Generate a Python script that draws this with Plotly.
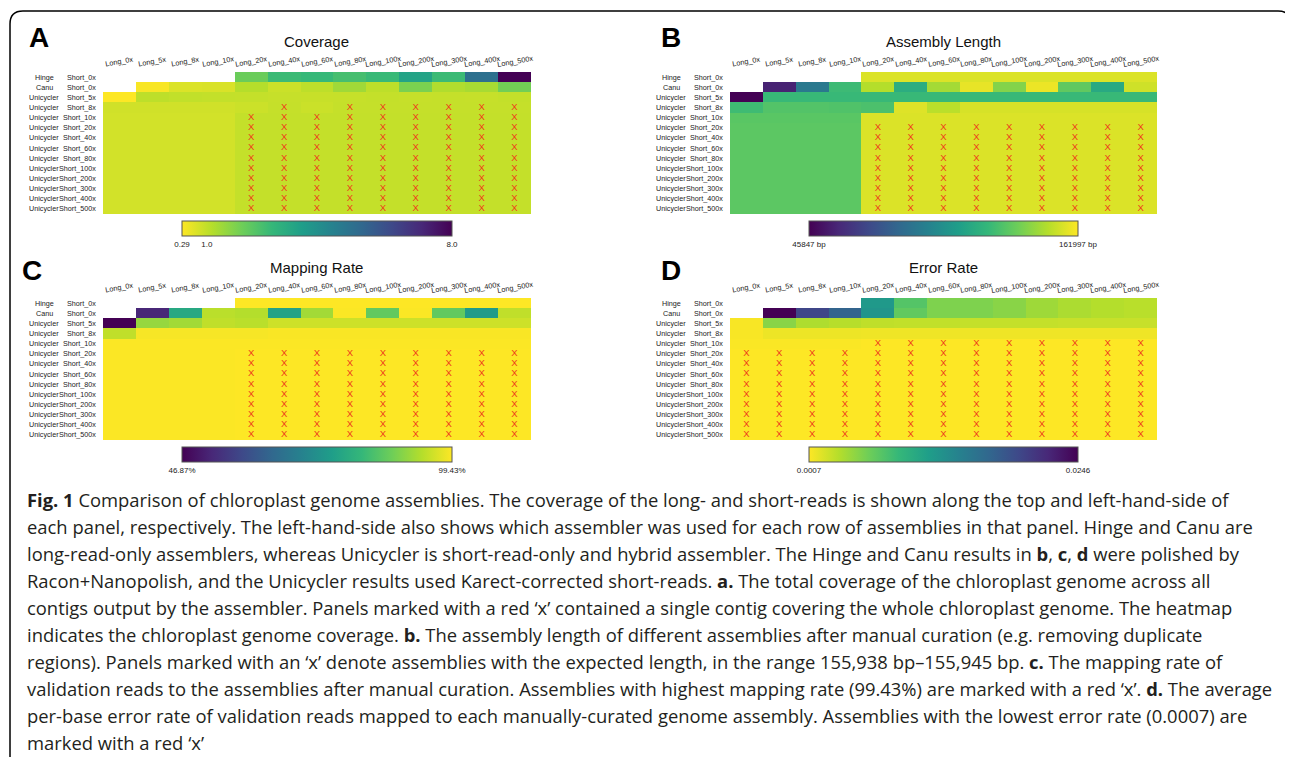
import plotly.graph_objects as go

W, H = 1293, 759
OFF = 8  # the page body margin shifts the figure by 8 px

# ---------------- data ----------------
long_labels = ["Long_0x", "Long_5x", "Long_8x", "Long_10x", "Long_20x", "Long_40x", "Long_60x",
               "Long_80x", "Long_100x", "Long_200x", "Long_300x", "Long_400x", "Long_500x"]
assemblers = ["Hinge", "Canu"] + ["Unicycler"] * 12
short_labels = ["Short_0x", "Short_0x", "Short_5x", "Short_8x", "Short_10x", "Short_20x", "Short_40x",
                "Short_60x", "Short_80x", "Short_100x", "Short_200x", "Short_300x", "Short_400x", "Short_500x"]

N = None
coverage = [
    [N, N, N, N, 2.06, 2.76, 2.84, 2.6, 2.8, 3.53, 2.76, 5.15, 8.0],
    [N, 0.35, 0.7, 0.72, 1.15, 0.9, 1.05, 1.4, 1.05, 1.85, 1.2, 1.3, 1.95],
    [0.29, 1.05, 1.0, 0.98, 0.97, 0.95, 0.93, 0.95, 0.97, 0.95, 0.96, 0.95, 0.98],
    [0.82, 0.82, 0.82, 0.82, 0.88, 0.96, 0.9, 0.96, 0.96, 0.96, 0.96, 0.96, 0.96],
    [0.8, 0.8, 0.8, 0.8, 0.97, 0.97, 0.97, 0.97, 0.97, 0.97, 0.97, 0.97, 0.97],
    [0.8, 0.8, 0.8, 0.8, 0.97, 0.97, 0.97, 0.97, 0.97, 0.97, 0.97, 0.97, 0.97],
    [0.8, 0.8, 0.8, 0.8, 0.97, 0.97, 0.97, 0.97, 0.97, 0.97, 0.97, 0.97, 0.97],
    [0.8, 0.8, 0.8, 0.8, 0.97, 0.97, 0.97, 0.97, 0.97, 0.97, 0.97, 0.97, 0.97],
    [0.8, 0.8, 0.8, 0.8, 0.97, 0.97, 0.97, 0.97, 0.97, 0.97, 0.97, 0.97, 0.97],
    [0.8, 0.8, 0.8, 0.8, 0.97, 0.97, 0.97, 0.97, 0.97, 0.97, 0.97, 0.97, 0.97],
    [0.8, 0.8, 0.8, 0.8, 0.97, 0.97, 0.97, 0.97, 0.97, 0.97, 0.97, 0.97, 0.97],
    [0.8, 0.8, 0.8, 0.8, 0.97, 0.97, 0.97, 0.97, 0.97, 0.97, 0.97, 0.97, 0.97],
    [0.8, 0.8, 0.8, 0.8, 0.97, 0.97, 0.97, 0.97, 0.97, 0.97, 0.97, 0.97, 0.97],
    [0.8, 0.8, 0.8, 0.8, 0.97, 0.97, 0.97, 0.97, 0.97, 0.97, 0.97, 0.97, 0.97],
]

assembly_length = [
    [N, N, N, N, 155941, 155938, 155940, 155942, 155939, 155941, 155940, 155943, 155940],
    [N, 57000, 93000, 125000, 149000, 118000, 146000, 158000, 140000, 159000, 133000, 116000, 153500],
    [45847, 124000, 124000, 124000, 124000, 124000, 124000, 124000, 124000, 124000, 124000, 124000, 124000],
    [125500, 130000, 130000, 129500, 128500, 156500, 150000, 155000, 155000, 155000, 155000, 155000, 155000],
    [131500, 131500, 131500, 131500, 155936, 155936, 155936, 155936, 155936, 155936, 155936, 155936, 155936],
    [132000, 132000, 132000, 132000, 155940, 155940, 155940, 155940, 155940, 155940, 155940, 155940, 155940],
    [132000, 132000, 132000, 132000, 155940, 155940, 155940, 155940, 155940, 155940, 155940, 155940, 155940],
    [132000, 132000, 132000, 132000, 155940, 155940, 155940, 155940, 155940, 155940, 155940, 155940, 155940],
    [132000, 132000, 132000, 132000, 155940, 155940, 155940, 155940, 155940, 155940, 155940, 155940, 155940],
    [132000, 132000, 132000, 132000, 155940, 155940, 155940, 155940, 155940, 155940, 155940, 155940, 155940],
    [132000, 132000, 132000, 132000, 155940, 155940, 155940, 155940, 155940, 155940, 155940, 155940, 155940],
    [132000, 132000, 132000, 132000, 155940, 155940, 155940, 155940, 155940, 155940, 155940, 155940, 155940],
    [132000, 132000, 132000, 132000, 155940, 155940, 155940, 155940, 155940, 155940, 155940, 155940, 155940],
    [132000, 132000, 132000, 132000, 155940, 155940, 155940, 155940, 155940, 155940, 155940, 155940, 155940],
]

mapping_rate = [
    [N, N, N, N, 99.4, 99.4, 99.4, 99.4, 99.4, 99.4, 99.4, 99.4, 99.4],
    [N, 52.5, 78.5, 94.0, 93.5, 77.0, 92.0, 99.3, 86.5, 99.3, 86.5, 75.5, 94.5],
    [46.87, 91.0, 92.0, 94.5, 94.0, 95.5, 95.5, 95.5, 95.5, 95.5, 95.5, 95.5, 95.5],
    [94.5, 98.9, 98.9, 98.9, 98.9, 99.1, 99.1, 99.1, 99.1, 99.1, 99.1, 99.1, 99.1],
    [99.3, 99.3, 99.3, 99.3, 99.3, 99.3, 99.3, 99.3, 99.3, 99.3, 99.3, 99.3, 99.3],
    [99.3, 99.3, 99.3, 99.3, 99.43, 99.43, 99.43, 99.43, 99.43, 99.43, 99.43, 99.43, 99.43],
    [99.3, 99.3, 99.3, 99.3, 99.43, 99.43, 99.43, 99.43, 99.43, 99.43, 99.43, 99.43, 99.43],
    [99.3, 99.3, 99.3, 99.3, 99.43, 99.43, 99.43, 99.43, 99.43, 99.43, 99.43, 99.43, 99.43],
    [99.3, 99.3, 99.3, 99.3, 99.43, 99.43, 99.43, 99.43, 99.43, 99.43, 99.43, 99.43, 99.43],
    [99.3, 99.3, 99.3, 99.3, 99.43, 99.43, 99.43, 99.43, 99.43, 99.43, 99.43, 99.43, 99.43],
    [99.3, 99.3, 99.3, 99.3, 99.43, 99.43, 99.43, 99.43, 99.43, 99.43, 99.43, 99.43, 99.43],
    [99.3, 99.3, 99.3, 99.3, 99.43, 99.43, 99.43, 99.43, 99.43, 99.43, 99.43, 99.43, 99.43],
    [99.3, 99.3, 99.3, 99.3, 99.43, 99.43, 99.43, 99.43, 99.43, 99.43, 99.43, 99.43, 99.43],
    [99.3, 99.3, 99.3, 99.3, 99.43, 99.43, 99.43, 99.43, 99.43, 99.43, 99.43, 99.43, 99.43],
]

error_rate = [
    [N, N, N, N, 0.0118, 0.0072, 0.0054, 0.0054, 0.0050, 0.0042, 0.0037, 0.0034, 0.0032],
    [N, 0.0246, 0.0195, 0.0170, 0.0122, 0.0066, 0.0054, 0.0054, 0.0050, 0.0042, 0.0037, 0.0034, 0.0032],
    [0.0009, 0.0050, 0.0036, 0.0033, 0.0030, 0.0029, 0.0029, 0.0028, 0.0028, 0.0028, 0.0027, 0.0027, 0.0027],
    [0.0009, 0.0013, 0.0013, 0.0013, 0.0012, 0.0012, 0.0012, 0.0012, 0.0012, 0.0012, 0.0012, 0.0012, 0.0012],
    [0.0008, 0.0008, 0.0008, 0.0008, 0.0007, 0.0007, 0.0007, 0.0007, 0.0007, 0.0007, 0.0007, 0.0007, 0.0007],
    [0.0007, 0.0007, 0.0007, 0.0007, 0.0007, 0.0007, 0.0007, 0.0007, 0.0007, 0.0007, 0.0007, 0.0007, 0.0007],
    [0.0007, 0.0007, 0.0007, 0.0007, 0.0007, 0.0007, 0.0007, 0.0007, 0.0007, 0.0007, 0.0007, 0.0007, 0.0007],
    [0.0007, 0.0007, 0.0007, 0.0007, 0.0007, 0.0007, 0.0007, 0.0007, 0.0007, 0.0007, 0.0007, 0.0007, 0.0007],
    [0.0007, 0.0007, 0.0007, 0.0007, 0.0007, 0.0007, 0.0007, 0.0007, 0.0007, 0.0007, 0.0007, 0.0007, 0.0007],
    [0.0007, 0.0007, 0.0007, 0.0007, 0.0007, 0.0007, 0.0007, 0.0007, 0.0007, 0.0007, 0.0007, 0.0007, 0.0007],
    [0.0007, 0.0007, 0.0007, 0.0007, 0.0007, 0.0007, 0.0007, 0.0007, 0.0007, 0.0007, 0.0007, 0.0007, 0.0007],
    [0.0007, 0.0007, 0.0007, 0.0007, 0.0007, 0.0007, 0.0007, 0.0007, 0.0007, 0.0007, 0.0007, 0.0007, 0.0007],
    [0.0007, 0.0007, 0.0007, 0.0007, 0.0007, 0.0007, 0.0007, 0.0007, 0.0007, 0.0007, 0.0007, 0.0007, 0.0007],
    [0.0007, 0.0007, 0.0007, 0.0007, 0.0007, 0.0007, 0.0007, 0.0007, 0.0007, 0.0007, 0.0007, 0.0007, 0.0007],
]

# cells marked with a red 'x' : for each row, the marked long-read columns
L20_UP = long_labels[4:]
coverage_marks = [[], [], [],
                  ["Long_40x", "Long_80x", "Long_100x", "Long_200x", "Long_300x", "Long_400x", "Long_500x"]] \
                 + [L20_UP] * 10
length_marks = [[], [], [], [], []] + [L20_UP] * 9
mapping_marks = [[], [], [], [], []] + [L20_UP] * 9
error_marks = [[], [], [], [], L20_UP] + [long_labels] * 9

cbar_ticks = {
    "A": ([0.29, 1.0, 8.0], ["0.29", "1.0", "8.0"]),
    "B": ([45847, 161997], ["45847 bp", "161997 bp"]),
    "C": ([46.87, 99.43], ["46.87%", "99.43%"]),
    "D": ([0.0007, 0.0246], ["0.0007", "0.0246"]),
}

caption_lines = [
    "<b>Fig. 1</b> Comparison of chloroplast genome assemblies. The coverage of the long- and short-reads is shown along the top and left-hand-side of",
    "each panel, respectively. The left-hand-side also shows which assembler was used for each row of assemblies in that panel. Hinge and Canu are",
    "long-read-only assemblers, whereas Unicycler is short-read-only and hybrid assembler. The Hinge and Canu results in <b>b</b>, <b>c</b>, <b>d</b> were polished by",
    "Racon+Nanopolish, and the Unicycler results used Karect-corrected short-reads. <b>a.</b> The total coverage of the chloroplast genome across all",
    "contigs output by the assembler. Panels marked with a red \u2018x\u2019 contained a single contig covering the whole chloroplast genome. The heatmap",
    "indicates the chloroplast genome coverage. <b>b.</b> The assembly length of different assemblies after manual curation (e.g. removing duplicate",
    "regions). Panels marked with an \u2018x\u2019 denote assemblies with the expected length, in the range 155,938 bp\u2013155,945 bp. <b>c.</b> The mapping rate of",
    "validation reads to the assemblies after manual curation. Assemblies with highest mapping rate (99.43%) are marked with a red \u2018x\u2019. <b>d.</b> The average",
    "per-base error rate of validation reads mapped to each manually-curated genome assembly. Assemblies with the lowest error rate (0.0007) are",
    "marked with a red \u2018x\u2019",
]

# ---------------- layout helpers ----------------
FW, FH = W - OFF, H - OFF


def px(x):
    return (x - OFF) / FW


def py(y):
    return 1 - (y - OFF) / FH


LAB = "Liberation Sans, Arial, sans-serif"

panels = [
    dict(key="A", title="Coverage", z=coverage, marks=coverage_marks, zmin=0.29, zmax=8.0, rev=True,
         x0=103, x1=531, y0=72, y1=214, cb_y=221, cb_x0=182, cb_x1=452, letter_xy=(39, 38), title_y=41),
    dict(key="B", title="Assembly Length", z=assembly_length, marks=length_marks, zmin=45847, zmax=161997,
         rev=False, x0=730, x1=1157, y0=72, y1=214, cb_y=221, cb_x0=809, cb_x1=1078, letter_xy=(671, 38),
         title_y=41),
    dict(key="C", title="Mapping Rate", z=mapping_rate, marks=mapping_marks, zmin=46.87, zmax=99.43, rev=False,
         x0=103, x1=531, y0=298, y1=440, cb_y=447, cb_x0=182, cb_x1=452, letter_xy=(32, 270), title_y=267),
    dict(key="D", title="Error Rate", z=error_rate, marks=error_marks, zmin=0.0007, zmax=0.0246, rev=True,
         x0=730, x1=1157, y0=298, y1=440, cb_y=447, cb_x0=809, cb_x1=1078, letter_xy=(671, 270), title_y=267),
]

fig = go.Figure()
annotations = []
layout_axes = {}

for i, p in enumerate(panels):
    n = i + 1
    xa = "x" if n == 1 else f"x{n}"
    ya = "y" if n == 1 else f"y{n}"
    xkey = "xaxis" if n == 1 else f"xaxis{n}"
    ykey = "yaxis" if n == 1 else f"yaxis{n}"
    ncol = len(long_labels)
    nrow = len(short_labels)
    tv, tt = cbar_ticks[p["key"]]
    fig.add_trace(go.Heatmap(
        z=p["z"], x=list(range(ncol)), y=list(range(nrow)),
        colorscale="Viridis", reversescale=p["rev"], zmin=p["zmin"], zmax=p["zmax"],
        hoverongaps=False, xaxis=xa, yaxis=ya,
        colorbar=dict(orientation="h", x=px((p["cb_x0"] + p["cb_x1"]) / 2), xanchor="center",
                      y=py(p["cb_y"]), yanchor="top", len=(p["cb_x1"] - p["cb_x0"]) / FW, lenmode="fraction",
                      thickness=15, thicknessmode="pixels", outlinewidth=1, outlinecolor="#555555",
                      tickvals=tv, ticktext=tt, ticks="", ticklen=0,
                      tickfont=dict(size=8, family=LAB, color="#222222"), xpad=0, ypad=0),
    ))
    # red X marks
    mx, my = [], []
    for r, cols in enumerate(p["marks"]):
        for c in cols:
            mx.append(long_labels.index(c))
            my.append(r)
    fig.add_trace(go.Scatter(x=mx, y=my, mode="text", text=["X"] * len(mx),
                             textfont=dict(color="#ee3a1c", size=9.5, family=LAB),
                             textposition="middle center", xaxis=xa, yaxis=ya, hoverinfo="skip",
                             showlegend=False))
    layout_axes[xkey] = dict(domain=[px(p["x0"]), px(p["x1"])], range=[-0.5, ncol - 0.5], anchor=ya,
                             showticklabels=False, showgrid=False, zeroline=False, ticks="", showline=False,
                             fixedrange=True)
    layout_axes[ykey] = dict(domain=[py(p["y1"]), py(p["y0"])], range=[nrow - 0.5, -0.5], anchor=xa,
                             showticklabels=False, showgrid=False, zeroline=False, ticks="", showline=False,
                             fixedrange=True)
    # column labels
    for c, lab in enumerate(long_labels):
        annotations.append(dict(x=c, xref=xa, y=py(p["y0"] - 11), yref="paper", text=lab, showarrow=False,
                                textangle=-10, xanchor="center", yanchor="middle",
                                font=dict(size=7.3, family=LAB, color="#222222")))
    # row labels
    for r in range(nrow):
        annotations.append(dict(x=px(p["x0"] - 5), xref="paper", y=r, yref=ya, text=short_labels[r],
                                showarrow=False, xanchor="right", yanchor="middle",
                                font=dict(size=7.2, family=LAB, color="#222222")))
        annotations.append(dict(x=px(p["x0"] - 59), xref="paper", y=r, yref=ya, text=assemblers[r],
                                showarrow=False, xanchor="center", yanchor="middle",
                                font=dict(size=7.2, family=LAB, color="#222222")))
    # title
    annotations.append(dict(x=px((p["x0"] + p["x1"]) / 2 - 0.5), xref="paper", y=py(p["title_y"]), yref="paper",
                            text=p["title"], showarrow=False, xanchor="center", yanchor="middle",
                            font=dict(size=15, family=LAB, color="#111111")))
    # panel letter
    lx, ly = p["letter_xy"]
    annotations.append(dict(x=px(lx), xref="paper", y=py(ly), yref="paper", text=f"<b>{p['key']}</b>",
                            showarrow=False, xanchor="center", yanchor="middle",
                            font=dict(size=28, family=LAB, color="#000000")))

# caption
for k, line in enumerate(caption_lines):
    annotations.append(dict(x=px(25), xref="paper", y=py(499 + 27 * k), yref="paper", text=line,
                            showarrow=False, xanchor="left", yanchor="middle", align="left",
                            font=dict(size=18.4, family="Open Sans, sans-serif", color="#231f20")))


# rounded border
def P(x, y):
    return f"{px(x):.5f},{py(y):.5f}"


border = (f"M {P(10, 757)} L {P(10, 24)} Q {P(10, 11)} {P(23, 11)} L {P(1278, 11)} "
          f"Q {P(1291, 11)} {P(1291, 24)} L {P(1291, 757)}")

fig.update_layout(
    width=FW, height=FH, autosize=False,
    margin=dict(l=0, r=0, t=0, b=0),
    paper_bgcolor="white", plot_bgcolor="white",
    showlegend=False,
    annotations=annotations,
    shapes=[dict(type="path", path=border, xref="paper", yref="paper", line=dict(color="#000000", width=1.5))],
    **layout_axes,
)

fig.write_html("out.html")
